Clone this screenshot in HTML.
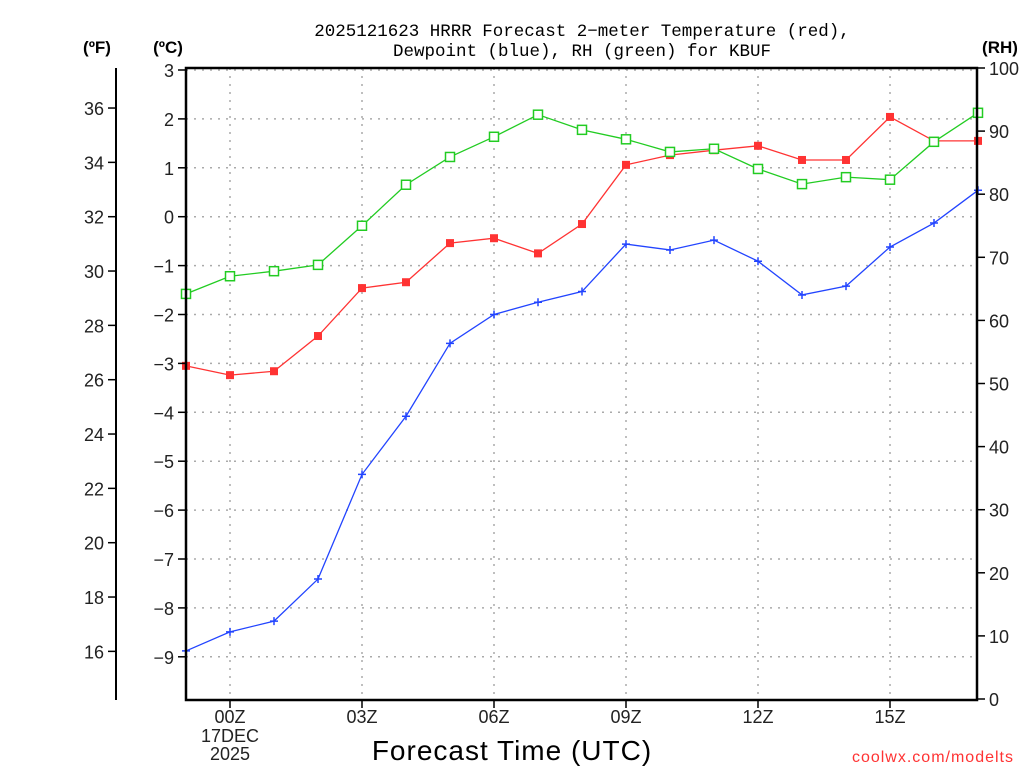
<!DOCTYPE html>
<html><head><meta charset="utf-8"><style>
body{margin:0;background:#fff;}
svg text{font-family:"Liberation Sans",sans-serif;}
</style></head><body>
<svg id="chart" width="1024" height="768" viewBox="0 0 1024 768" xmlns="http://www.w3.org/2000/svg">
<g id="grid"></g>
<g id="series"></g>
<g id="axes"></g>
<text x="582" y="36" text-anchor="middle" font-size="17.5" fill="#000" style="font-family:'Liberation Mono',monospace">2025121623 HRRR Forecast 2−meter Temperature (red),</text>
<text x="582" y="56" text-anchor="middle" font-size="17.5" fill="#000" style="font-family:'Liberation Mono',monospace">Dewpoint (blue), RH (green) for KBUF</text>
<text x="97" y="53" text-anchor="middle" font-size="17" font-weight="bold">(ºF)</text>
<text x="168" y="53" text-anchor="middle" font-size="17" font-weight="bold">(ºC)</text>
<text x="1000" y="53" text-anchor="middle" font-size="17" font-weight="bold">(RH)</text>
<text x="512" y="760" text-anchor="middle" font-size="28" letter-spacing="1">Forecast Time (UTC)</text>
<text x="1014" y="762" text-anchor="end" font-size="16" fill="#ff3333" letter-spacing="1">coolwx.com/modelts</text>
</svg>
<script>
const hours=[-1,0,1,2,3,4,5,6,7,8,9,10,11,12,13,14,15,16,17];
const tempC=[-3.05,-3.24,-3.16,-2.44,-1.46,-1.34,-0.54,-0.44,-0.75,-0.15,1.06,1.26,1.36,1.45,1.16,1.16,2.04,1.55,1.55];
const dewC=[-8.88,-8.49,-8.27,-7.41,-5.27,-4.08,-2.59,-2.0,-1.75,-1.53,-0.56,-0.68,-0.48,-0.91,-1.6,-1.42,-0.62,-0.13,0.54];
const rh=[64.2,67.0,67.8,68.8,75.0,81.5,85.9,89.1,92.6,90.2,88.7,86.7,87.2,84.0,81.6,82.7,82.3,88.3,92.9];
const cTicks=[3,2,1,0,-1,-2,-3,-4,-5,-6,-7,-8,-9];
const fTicks=[36,34,32,30,28,26,24,22,20,18,16];
const rhTicks=[0,10,20,30,40,50,60,70,80,90,100];
const xTickHours=[0,3,6,9,12,15];
const xTickLabels=["00Z","03Z","06Z","09Z","12Z","15Z"];

const NS="http://www.w3.org/2000/svg";
const L=186,R=977,T=68,B=700;
const x=h=>230+h*44;
const yC=c=>216.7-c*48.9;
const yF=f=>yC((f-32)*5/9);
const yRH=v=>699-v*6.31;
function mk(tag,attrs,parent){const e=document.createElementNS(NS,tag);for(const k in attrs)e.setAttribute(k,attrs[k]);parent.appendChild(e);return e;}
const grid=document.getElementById('grid'),series=document.getElementById('series'),axes=document.getElementById('axes');

cTicks.forEach(c=>{
 const g=mk('line',{x1:L,x2:R,y1:yC(c),y2:yC(c),stroke:'#aaa','stroke-dasharray':'2,6','stroke-width':1.5},grid);
 
 
 mk('line',{x1:L-8,x2:L,y1:yC(c),y2:yC(c),stroke:'#000','stroke-width':1.5},axes);
 const t=mk('text',{x:L-12,y:yC(c)+7,'text-anchor':'end','font-size':18,fill:'#222'},axes);
 t.textContent=(c<0?'−':'')+Math.abs(c);
 
 
});
xTickHours.forEach((h,i)=>{
 const g=mk('line',{x1:x(h),x2:x(h),y1:T,y2:B,stroke:'#aaa','stroke-dasharray':'2,6','stroke-width':1.5},grid);
 
 
 mk('line',{x1:x(h),x2:x(h),y1:B,y2:B+8,stroke:'#000','stroke-width':1.5},axes);
 const t=mk('text',{x:x(h),y:B+23,'text-anchor':'middle','font-size':18,fill:'#222'},axes);
 t.textContent=xTickLabels[i];
 
 
});
[["17DEC",742],["2025",760]].forEach(a=>{
 const t=mk('text',{x:x(0),y:a[1],'text-anchor':'middle','font-size':18,fill:'#222'},axes);
 t.textContent=a[0];
 
 
});
fTicks.forEach(f=>{
 mk('line',{x1:108,x2:116,y1:yF(f),y2:yF(f),stroke:'#000','stroke-width':1.5},axes);
 const t=mk('text',{x:104,y:yF(f)+7,'text-anchor':'end','font-size':18,fill:'#222'},axes);
 t.textContent=f;
 
 
});
rhTicks.forEach(v=>{
 mk('line',{x1:R,x2:R+8,y1:yRH(v),y2:yRH(v),stroke:'#000','stroke-width':1.5},axes);
 const t=mk('text',{x:R+12,y:yRH(v)+7,'text-anchor':'start','font-size':18,fill:'#222'},axes);
 t.textContent=v;
 
 
});
const fl=mk('line',{x1:116,x2:116,y1:T,y2:B,stroke:'#000','stroke-width':2},axes);


const frame=mk('rect',{x:L,y:T,width:R-L,height:B-T,fill:'none',stroke:'#000','stroke-width':2.5},axes);



function line(vals,yf,color,name){
 const p=mk('polyline',{points:hours.map((h,i)=>x(h)+','+yf(vals[i])).join(' '),fill:'none',stroke:color,'stroke-width':1.3},series);
 
 
}
line(rh,yRH,'#22cc22','rh-line');
line(tempC,yC,'#ff3333','temperature-line');
line(dewC,yC,'#2244ff','dewpoint-line');
hours.forEach((h,i)=>{
 const r=mk('rect',{x:x(h)-4,y:yC(tempC[i])-4,width:8,height:8,fill:'#ff3333'},series);
 
 
 const g=mk('rect',{x:x(h)-4.5,y:yRH(rh[i])-4.5,width:9,height:9,fill:'#fff',stroke:'#22cc22','stroke-width':1.5},series);
 
 
 const d=mk('path',{d:`M${x(h)-4},${yC(dewC[i])}h8M${x(h)},${yC(dewC[i])-4}v8`,stroke:'#2244ff','stroke-width':1.5},series);
 
 
});
</script>
</body></html>
